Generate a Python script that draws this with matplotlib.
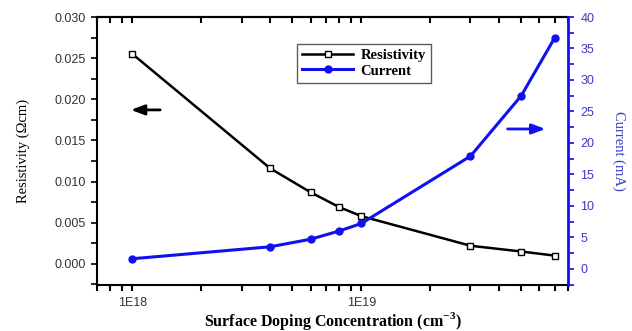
import matplotlib
matplotlib.use("Agg")
import matplotlib.pyplot as plt
from matplotlib.ticker import LogLocator, MultipleLocator, FixedLocator, FixedFormatter, NullFormatter

# Data
doping = [1e18, 4e18, 6e18, 8e18, 1e19, 3e19, 5e19, 7e19]
resistivity = [0.0255, 0.0116, 0.0087, 0.0069, 0.0058, 0.0022, 0.0015, 0.0010]
current = [1.6, 3.5, 4.7, 6.0, 7.2, 17.9, 27.5, 36.7]
x_major_ticks = [1e18, 1e19]
x_major_labels = ["1E18", "1E19"]

serif = "Liberation Serif"
sans = "Liberation Sans"
blue = "#1010f0"
blue_text = "#3a3ac8"

fig = plt.figure(figsize=(6.32, 3.31), dpi=100)
ax = fig.add_axes([0.1535, 0.1375, 0.7452, 0.8111])
ax2 = ax.twinx()

l1, = ax.plot(doping, resistivity, color="black", lw=1.8, marker="s", ms=5,
              mfc="white", mec="black", mew=1.0, label="Resistivity")
l2, = ax2.plot(doping, current, color=blue, lw=2.2, marker="o", ms=5,
               mfc=blue, mec=blue, label="Current")

ax.set_xscale("log")
ax.set_xlim(7e17, 8e19)
ax.set_ylim(-0.00263, 0.030)
ax2.set_ylim(-2.65, 40)

ax.xaxis.set_major_locator(FixedLocator(x_major_ticks))
ax.xaxis.set_major_formatter(FixedFormatter(x_major_labels))
ax.xaxis.set_minor_locator(LogLocator(base=10, subs=range(2, 10)))
ax.xaxis.set_minor_formatter(NullFormatter())

ax.yaxis.set_major_locator(MultipleLocator(0.005))
ax.yaxis.set_minor_locator(MultipleLocator(0.0025))
ax.yaxis.set_major_formatter(plt.FuncFormatter(lambda v, p: f"{v:.3f}"))
ax2.yaxis.set_major_locator(MultipleLocator(5))
ax2.yaxis.set_minor_locator(MultipleLocator(2.5))

for sp in ["left", "bottom", "top"]:
    ax.spines[sp].set_linewidth(1.5)
ax.spines["right"].set_visible(False)
ax2.spines["left"].set_visible(False)
ax2.spines["top"].set_visible(False)
ax2.spines["bottom"].set_visible(False)
ax2.spines["right"].set_color(blue)
ax2.spines["right"].set_linewidth(2)

ax.tick_params(axis="x", which="both", direction="out", top=False, length=4, width=1.5,
               labelsize=9, labelcolor="#333333", pad=4)
ax.tick_params(axis="y", which="both", direction="out", length=4, width=1.2,
               labelsize=9, labelcolor="#333333", pad=4)
for t in ax.get_xticklabels() + ax.get_yticklabels():
    t.set_family(sans)
ax2.tick_params(axis="y", which="both", direction="out", length=4, width=1.2,
                color=blue, labelsize=9, labelcolor=blue_text, pad=5)
for t in ax2.get_yticklabels():
    t.set_family(sans)

axt = ax.secondary_xaxis("top")
axt.xaxis.set_major_locator(FixedLocator(x_major_ticks))
axt.xaxis.set_minor_locator(LogLocator(base=10, subs=range(2, 10)))
axt.xaxis.set_major_formatter(NullFormatter())
axt.xaxis.set_minor_formatter(NullFormatter())
axt.tick_params(axis="x", which="both", direction="in", length=4, width=1.5)
axt.spines["top"].set_linewidth(1.5)

ax.set_ylabel("Resistivity (Ωcm)", family=serif, fontsize=10.5, labelpad=18)
ax2.set_ylabel("Current (mA)", family=serif, fontsize=10.5, color=blue_text,
               rotation=270, labelpad=22)
ax.set_xlabel("Surface Doping Concentration (cm$^{\\mathregular{-3}}$)", family=serif,
              fontsize=11.5, fontweight="bold", labelpad=1)

leg = ax.legend(handles=[l1, l2], loc="upper left", bbox_to_anchor=(0.425, 0.9),
                prop={"family": serif, "weight": "bold", "size": 10.5},
                frameon=True, fancybox=False, handlelength=3.5, borderpad=0.35,
                labelspacing=0.15, handletextpad=0.5, borderaxespad=0)
leg.get_frame().set_edgecolor("#333333")
leg.get_frame().set_linewidth(1.0)

ax.annotate("", xy=(0.066, 0.654), xytext=(0.14, 0.654), xycoords="axes fraction",
            arrowprops=dict(arrowstyle="-|>,head_length=0.8,head_width=0.3", color="black", lw=2))
ax.annotate("", xy=(0.958, 0.583), xytext=(0.866, 0.583), xycoords="axes fraction",
            arrowprops=dict(arrowstyle="-|>,head_length=0.8,head_width=0.3", color=blue, lw=2))

fig.savefig("out.png", dpi=100)
